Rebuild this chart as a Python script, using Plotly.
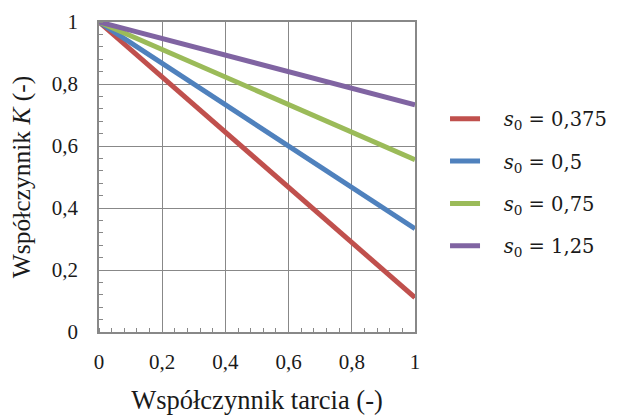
import plotly.graph_objects as go

# Data
friction = [0, 0.2, 0.4, 0.6, 0.8, 1.0]
series_names = ["0,375", "0,5", "0,75", "1,25"]
k_s0375 = [1.0, 0.822, 0.644, 0.467, 0.289, 0.111]
k_s05 = [1.0, 0.867, 0.733, 0.600, 0.467, 0.333]
k_s075 = [1.0, 0.911, 0.822, 0.733, 0.644, 0.556]
k_s125 = [1.0, 0.947, 0.893, 0.840, 0.787, 0.733]
series_values = [k_s0375, k_s05, k_s075, k_s125]
colors = ["#C0504D", "#4F81BD", "#9BBB59", "#8064A2"]
tick_vals = [0, 0.2, 0.4, 0.6, 0.8, 1.0]
tick_text = ["0", "0,2", "0,4", "0,6", "0,8", "1"]

SERIF = "Liberation Serif, Times New Roman, serif"

fig = go.Figure()
for i, (name, vals, col) in enumerate(zip(series_names, series_values, colors)):
    fig.add_trace(go.Scatter(
        x=friction, y=vals, mode="lines",
        line=dict(color=col, width=5),
        name="\u00a0\u00a0\u00a0<i>s</i><sub>0</sub>\u00a0=\u00a0" + name,
        legendgroup="g%d" % i,
    ))

axis_common = dict(
    range=[0, 1], tickvals=tick_vals, ticktext=tick_text,
    showgrid=True, gridcolor="#888888", gridwidth=1,
    showline=True, linecolor="#888888", linewidth=1.5, mirror=True,
    ticks="", zeroline=False, automargin=False,
    tickfont=dict(family=SERIF, size=21, color="#1a1a1a"),
    minor=dict(ticks="inside", ticklen=4, tickcolor="#888888", dtick=0.04, showgrid=False),
)

fig.update_layout(
    width=618, height=415,
    margin=dict(l=99, r=203, t=22, b=83, autoexpand=False),
    paper_bgcolor="white", plot_bgcolor="white",
    xaxis=dict(**axis_common, ticklabelstandoff=10,
               title=dict(text="Współczynnik tarcia (-)\u00a0\u00a0", standoff=21,
                          font=dict(family=SERIF, size=26.5, color="#1a1a1a"))),
    yaxis=dict(**axis_common, ticklabelstandoff=15,
               title=dict(text="Współczynnik <i>K</i> (-)", standoff=14,
                          font=dict(family=SERIF, size=25.5, color="#1a1a1a"))),
    legend=dict(x=1.095, y=0.75, xanchor="left", yanchor="top",
                font=dict(family="DejaVu Serif", size=19.5, color="#1a1a1a"),
                tracegroupgap=14, bgcolor="rgba(0,0,0,0)"),
    showlegend=True,
)

fig.write_html("out.html")
